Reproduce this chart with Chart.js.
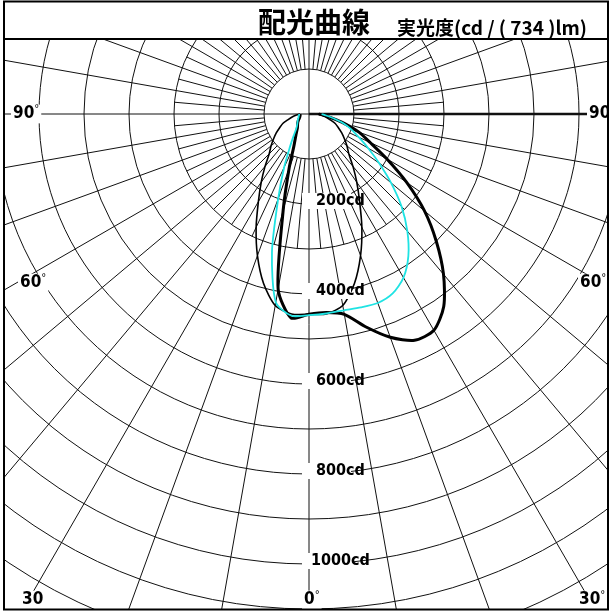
<!DOCTYPE html>
<html lang="ja">
<head>
<meta charset="utf-8">
<title>配光曲線</title>
<script src="https://cdn.jsdelivr.net/npm/chart.js@4.4.1/dist/chart.umd.min.js"></script>
<style>
  html, body { margin: 0; padding: 0; background: #fff; }
  #wrap { position: relative; width: 609px; height: 612px; }
</style>
</head>
<body>
<div id="wrap"><canvas id="polarChart" width="609" height="612"></canvas></div>
<script>
// 角度: 鉛直下向きが 0°, 右側が +
const angles = [-90, -85, -80, -75, -70, -65, -60, -55, -50, -45, -40, -35, -30, -25, -20, -15, -10, -5,
                0, 5, 10, 15, 20, 25, 30, 35, 40, 45, 50, 55, 60, 65, 70, 75, 80, 85, 90];

// 光度 (cd) 細い黒線 (左右対称)
const thinCurve = [20, 28, 38, 48, 62, 72, 84, 96, 110, 125, 152, 185, 225, 278, 335, 390, 432, 446,
                   445, 446, 432, 390, 335, 278, 225, 185, 152, 125, 110, 96, 84, 72, 62, 48, 38, 28, 20];

// 光度 (cd) 水色の線
const cyanCurve = [22, 22, 23, 24, 25, 27, 29, 31, 34, 38, 45, 60, 85, 131, 200, 318, 425, 450,
                   447, 445, 443, 445, 447, 440, 420, 385, 340, 291, 238, 190, 152, 122, 100, 78, 55, 38, 28];

// 光度 (cd) 太い黒線
const thickCurve = [20, 20, 20, 21, 22, 24, 27, 30, 33, 36, 40, 48, 60, 80, 130, 222, 395, 455,
                    445, 443, 452, 490, 528, 555, 555, 522, 465, 400, 335, 265, 200, 150, 118, 82, 52, 32, 22];

// 同心円 (cd) と目盛ラベル
const ringValues = [100, 200, 300, 400, 500, 600, 700, 800, 900, 1000, 1100, 1200];
const ringLabels = ["200cd", "400cd", "600cd", "800cd", "1000cd"];
const ringLabelValues = [200, 400, 600, 800, 1000];

const titleMain = "配光曲線";
const titleSub = "実光度(cd / ( 734 )lm)";

// レイアウト (px)
const CENTER_X = 309, CENTER_Y = 114, PX_PER_CD = 0.45;
const W = 609, H = 612;
const FRAME = { left: 4, top: 1.5, right: 608, bottom: 609.5, split: 39 };
const LABEL_FONT = "'Liberation Sans Narrow', 'DejaVu Sans Condensed', sans-serif";
const CJK_FONT = "'Noto Sans CJK JP', 'Noto Sans CJK SC', sans-serif";

function toXY(list) {
    return angles.map((a, i) => {
        const rad = a * Math.PI / 180;
        return { x: list[i] * Math.sin(rad), y: -list[i] * Math.cos(rad) };
    });
}

// 文字 + 小さい度記号
function drawDeg(ctx, text, x, y, size, withDeg) {
    ctx.font = `bold ${size}px ${LABEL_FONT}`;
    ctx.textBaseline = "middle";
    ctx.textAlign = "left";
    const w = ctx.measureText(text).width;
    let total = w;
    if (withDeg) {
        ctx.font = `${size * 0.65}px ${LABEL_FONT}`;
        total += ctx.measureText("°").width;
    }
    ctx.fillStyle = "#fff";
    ctx.fillRect(x - 2, y - size * 0.55, total + 4, size * 1.1);
    ctx.fillStyle = "#000";
    ctx.font = `bold ${size}px ${LABEL_FONT}`;
    ctx.fillText(text, x, y);
    if (withDeg) {
        ctx.font = `${size * 0.65}px ${LABEL_FONT}`;
        ctx.fillText("°", x + w, y - size * 0.3);
    }
}

const polarGrid = {
    id: "polarGrid",
    beforeDatasetsDraw(chart) {
        const { ctx, scales: { x, y } } = chart;
        const cx = x.getPixelForValue(0), cy = y.getPixelForValue(0);
        const k = x.getPixelForValue(1) - cx;

        ctx.save();
        ctx.beginPath();
        ctx.rect(FRAME.left, FRAME.split, FRAME.right - FRAME.left, FRAME.bottom - FRAME.split);
        ctx.clip();
        ctx.strokeStyle = "#111";
        ctx.lineWidth = 1;

        // 同心円
        ringValues.forEach(v => {
            ctx.beginPath();
            ctx.arc(cx, cy, v * k, 0, Math.PI * 2);
            ctx.stroke();
        });

        // 放射線: 10°毎は外まで, 5°は 100〜300cd
        for (let a = 0; a < 360; a += 5) {
            if (a % 90 === 0) continue;
            const major = a % 10 === 0;
            const r0 = 100 * k;
            const r1 = major ? 3000 : 300 * k;
            const rad = a * Math.PI / 180;
            const dx = Math.sin(rad), dy = Math.cos(rad);
            ctx.beginPath();
            ctx.moveTo(cx + dx * r0, cy + dy * r0);
            ctx.lineTo(cx + dx * r1, cy + dy * r1);
            ctx.stroke();
        }

        // 0°-180° 軸, 90° 軸
        ctx.beginPath();
        ctx.moveTo(cx, 0); ctx.lineTo(cx, H);
        ctx.moveTo(0, cy); ctx.lineTo(cx, cy);
        ctx.stroke();
        ctx.lineWidth = 2.4;
        ctx.beginPath();
        ctx.moveTo(cx, cy); ctx.lineTo(W, cy);
        ctx.stroke();
        ctx.restore();
    },
    afterDatasetsDraw(chart) {
        const { ctx, scales: { x, y } } = chart;
        const cx = x.getPixelForValue(0), cy = y.getPixelForValue(0);

        ctx.save();
        // cd ラベル
        ringLabels.forEach((t, i) => {
            const py = y.getPixelForValue(-ringLabelValues[i]) - 3;
            const px = t.length > 5 ? cx + 2 : cx + 7;
            ctx.fillStyle = "#fff";
            ctx.fillRect(cx - 7, py - 8, t.length > 5 ? 50 : 49, 16);
            ctx.fillStyle = "#000";
            ctx.font = `bold 16px ${LABEL_FONT}`;
            ctx.textBaseline = "middle";
            ctx.fillText(t, px, py);
        });

        // 角度ラベル
        drawDeg(ctx, "90", 13, cy, 17, true);
        drawDeg(ctx, "90", 589, cy, 17, true);
        drawDeg(ctx, "60", 20, 283, 17, true);
        drawDeg(ctx, "60", 580, 283, 17, true);
        drawDeg(ctx, "30", 22, 600, 17, false);
        drawDeg(ctx, "0", cx - 5, 600, 17, true);
        drawDeg(ctx, "30", 579, 600, 17, true);

        // 枠
        ctx.fillStyle = "#fff";
        ctx.fillRect(0, 0, W, FRAME.split);
        ctx.strokeStyle = "#000";
        ctx.lineWidth = 2;
        ctx.strokeRect(FRAME.left, FRAME.top, FRAME.right - FRAME.left, FRAME.bottom - FRAME.top);
        ctx.beginPath();
        ctx.moveTo(FRAME.left, FRAME.split); ctx.lineTo(FRAME.right, FRAME.split);
        ctx.stroke();

        // タイトル
        ctx.fillStyle = "#000";
        ctx.textBaseline = "alphabetic";
        ctx.textAlign = "left";
        ctx.font = `bold 28px ${CJK_FONT}`;
        ctx.fillText(titleMain, 258, 33);
        ctx.font = `bold 19px ${CJK_FONT}`;
        ctx.fillText(titleSub, 397, 35);
        ctx.restore();
    }
};

new Chart(document.getElementById("polarChart"), {
    type: "scatter",
    data: {
        datasets: [
            {
                label: "thick",
                data: toXY(thickCurve),
                showLine: true,
                borderColor: "#000",
                borderWidth: 3,
                pointRadius: 0,
                tension: 0.25,
                order: 3
            },
            {
                label: "thin",
                data: toXY(thinCurve),
                showLine: true,
                borderColor: "#000",
                borderWidth: 1.6,
                pointRadius: 0,
                tension: 0.25,
                order: 2
            },
            {
                label: "cyan",
                data: toXY(cyanCurve),
                showLine: true,
                borderColor: "#1fe3e3",
                borderWidth: 1.8,
                pointRadius: 0,
                tension: 0.25,
                order: 1
            }
        ]
    },
    options: {
        responsive: false,
        animation: false,
        devicePixelRatio: 1,
        layout: { padding: 0 },
        plugins: { legend: { display: false }, tooltip: { enabled: false } },
        scales: {
            x: { display: false, min: -CENTER_X / PX_PER_CD, max: (W - CENTER_X) / PX_PER_CD },
            y: { display: false, min: -(H - CENTER_Y) / PX_PER_CD, max: CENTER_Y / PX_PER_CD }
        }
    },
    plugins: [polarGrid]
});
</script>
</body>
</html>
